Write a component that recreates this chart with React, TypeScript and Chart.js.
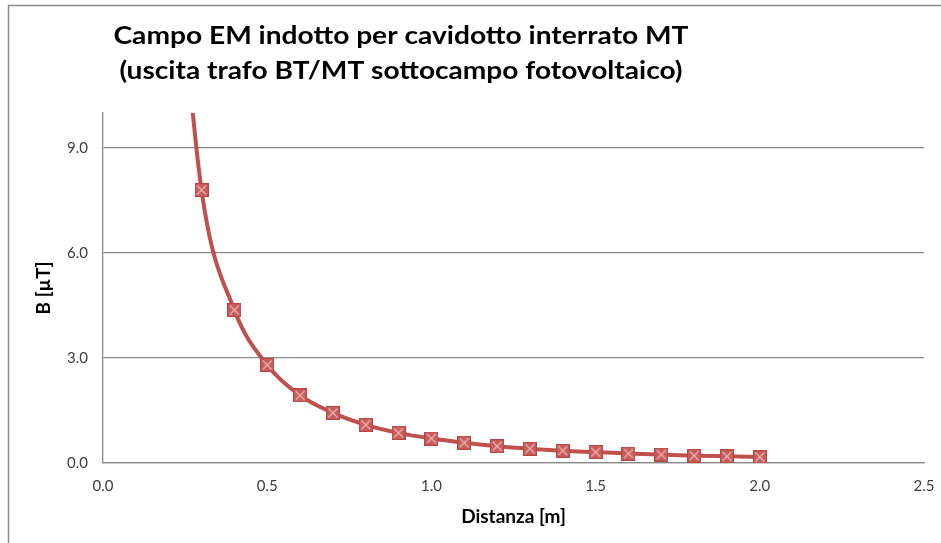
import React, { useEffect, useRef } from "react";
import { Chart, registerables } from "chart.js";

Chart.register(...registerables);

const distances = [0.2, 0.3, 0.4, 0.5, 0.6, 0.7, 0.8, 0.9, 1.0, 1.1, 1.2, 1.3, 1.4, 1.5, 1.6, 1.7, 1.8, 1.9, 2.0];
const fieldValues = [17.6, 7.8, 4.37, 2.8, 1.93, 1.43, 1.09, 0.86, 0.7, 0.58, 0.48, 0.41, 0.35, 0.31, 0.27, 0.24, 0.21, 0.19, 0.17];
const yTickValues = [0, 3, 6, 9];
const titleLines = [
  "Campo EM indotto per cavidotto interrato MT",
  "(uscita trafo BT/MT sottocampo fotovoltaico)",
];
const xAxisTitle = "Distanza [m]";
const yAxisTitle = "B [\u00b5T]";

const FONT = "Lato, 'Open Sans', sans-serif";

function makeMarker(): HTMLCanvasElement {
  const c = document.createElement("canvas");
  c.width = 14;
  c.height = 14;
  const g = c.getContext("2d")!;
  g.fillStyle = "#C85E5B";
  g.fillRect(0, 0, 14, 14);
  g.strokeStyle = "#B94643";
  g.lineWidth = 1;
  g.strokeRect(0.5, 0.5, 13, 13);
  g.strokeStyle = "#EDB3B1";
  g.lineWidth = 1.3;
  g.beginPath();
  g.moveTo(2.5, 2.5);
  g.lineTo(11.5, 11.5);
  g.moveTo(11.5, 2.5);
  g.lineTo(2.5, 11.5);
  g.stroke();
  return c;
}

const framePlugin = {
  id: "frame",
  beforeDraw(chart: any) {
    const ctx = chart.ctx;
    ctx.save();
    ctx.fillStyle = "#ffffff";
    ctx.fillRect(0, 0, chart.width, chart.height);
    ctx.strokeStyle = "#8c8c8c";
    ctx.lineWidth = 1.5;
    ctx.beginPath();
    ctx.moveTo(8.5, chart.height);
    ctx.lineTo(8.5, 5.5);
    ctx.lineTo(chart.width, 5.5);
    ctx.stroke();
    ctx.restore();
  },
};

function drawStretched(ctx: CanvasRenderingContext2D, text: string, cx: number, y: number, targetW: number) {
  const w = ctx.measureText(text).width;
  const s = targetW / w;
  ctx.save();
  ctx.translate(cx, y);
  ctx.scale(s, 1);
  ctx.fillText(text, 0, 0);
  ctx.restore();
}

const titlePlugin = {
  id: "customTitle",
  afterDraw(chart: any) {
    const ctx = chart.ctx;
    ctx.save();
    ctx.font = "bold 25px " + FONT;
    ctx.fillStyle = "#000000";
    ctx.textAlign = "center";
    ctx.textBaseline = "alphabetic";
    drawStretched(ctx, titleLines[0], 401, 44, 575);
    drawStretched(ctx, titleLines[1], 401, 79, 563);
    ctx.restore();
  },
};

export default function App() {
  const canvasRef = useRef<HTMLCanvasElement | null>(null);

  useEffect(() => {
    const canvas = canvasRef.current;
    if (!canvas) return;
    const marker = makeMarker();
    const chart = new Chart(canvas, {
      type: "line",
      data: {
        datasets: [
          {
            data: distances.map((d, i) => ({ x: d, y: fieldValues[i] })),
            borderColor: "#C0504D",
            backgroundColor: "#C0504D",
            borderWidth: 4,
            cubicInterpolationMode: "monotone",
            pointStyle: marker as any,
            pointRadius: 7,
            pointHoverRadius: 7,
            fill: false,
          },
        ],
      },
      options: {
        responsive: false,
        animation: false,
        events: [],
        layout: { padding: { top: 113, right: 17, left: 0, bottom: 0 } },
        plugins: {
          legend: { display: false },
          title: { display: false },
          tooltip: { enabled: false },
        },
        scales: {
          x: {
            type: "linear",
            min: 0,
            max: 2.5,
            ticks: {
              stepSize: 0.5,
              padding: 14,
              color: "#404040",
              font: { family: FONT, size: 15 },
              callback: (v: any) => Number(v).toFixed(1),
            },
            grid: { display: false, drawTicks: false },
            border: { display: true, color: "#8a8a8a", width: 1.3 },
            title: {
              display: true,
              text: xAxisTitle,
              color: "#000000",
              font: { family: FONT, size: 19, weight: "bold" },
              padding: { top: 0, bottom: 15 },
            },
            afterFit: (scale: any) => {
              scale.height = 80;
              scale.paddingLeft = 0;
              scale.paddingRight = 0;
            },
          },
          y: {
            type: "linear",
            min: 0,
            max: 10,
            afterBuildTicks: (scale: any) => {
              scale.ticks = yTickValues.map((v) => ({ value: v }));
            },
            ticks: {
              padding: 15,
              color: "#404040",
              font: { family: FONT, size: 15 },
              callback: (v: any) => Number(v).toFixed(1),
            },
            grid: { color: "#8a8a8a", lineWidth: 1.3, drawTicks: false },
            border: { display: true, color: "#8a8a8a", width: 1.3 },
            title: {
              display: true,
              text: yAxisTitle,
              color: "#000000",
              font: { family: FONT, size: 19, weight: "bold" },
              padding: { top: 32, bottom: 0 },
            },
            afterFit: (scale: any) => {
              scale.width = 103;
              scale.paddingTop = 0;
              scale.paddingBottom = 0;
            },
          },
        },
      },
      plugins: [framePlugin, titlePlugin],
    });
    return () => chart.destroy();
  }, []);

  return (
    <div style={{ position: "fixed", left: 0, top: 0, width: 941, height: 543, background: "#fff" }}>
      <canvas ref={canvasRef} width={941} height={543} style={{ display: "block" }} />
    </div>
  );
}
